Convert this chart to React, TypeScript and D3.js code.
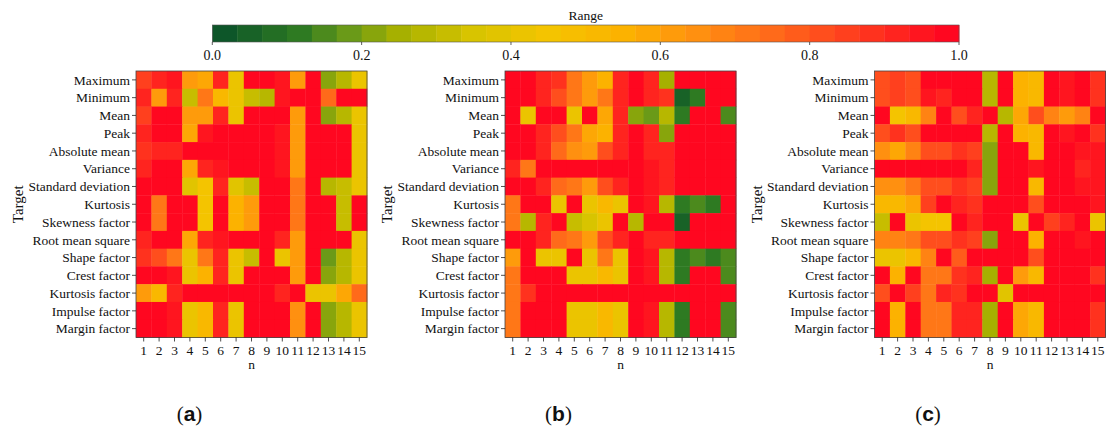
import React from 'react';
import * as d3 from 'd3';

const targets = [
  'Maximum', 'Minimum', 'Mean', 'Peak', 'Absolute mean', 'Variance', 'Standard deviation',
  'Kurtosis', 'Skewness factor', 'Root mean square', 'Shape factor', 'Crest factor',
  'Kurtosis factor', 'Impulse factor', 'Margin factor'
];
const ns = ['1', '2', '3', '4', '5', '6', '7', '8', '9', '10', '11', '12', '13', '14', '15'];
const rangeTicks = [0, 0.2, 0.4, 0.6, 0.8, 1.0];
const panelLabels = ['a', 'b', 'c'];

// rows = targets, cols = n
const valuesA = [
  [0.85, 0.92, 0.95, 0.63, 0.57, 0.93, 0.40, 1.00, 1.00, 0.95, 0.62, 1.00, 0.22, 0.29, 0.43],
  [0.93, 0.63, 0.93, 0.32, 0.73, 0.53, 0.40, 0.30, 0.27, 0.95, 1.00, 1.00, 0.75, 1.00, 1.00],
  [0.85, 0.97, 0.97, 0.63, 0.62, 0.92, 0.40, 1.00, 0.97, 0.97, 0.62, 1.00, 0.22, 0.29, 0.43],
  [0.92, 1.00, 1.00, 0.57, 0.95, 1.00, 1.00, 1.00, 1.00, 0.95, 0.62, 1.00, 1.00, 1.00, 0.43],
  [0.87, 0.90, 0.90, 1.00, 1.00, 1.00, 1.00, 1.00, 0.97, 0.95, 0.62, 1.00, 1.00, 1.00, 0.43],
  [0.92, 1.00, 1.00, 0.57, 0.92, 0.95, 1.00, 1.00, 1.00, 0.95, 0.62, 1.00, 1.00, 1.00, 0.43],
  [1.00, 1.00, 1.00, 0.38, 0.45, 0.93, 0.38, 0.33, 1.00, 1.00, 0.70, 1.00, 0.27, 0.30, 0.43],
  [1.00, 0.73, 1.00, 1.00, 0.45, 0.97, 0.55, 0.63, 1.00, 0.97, 0.72, 1.00, 1.00, 0.30, 1.00],
  [1.00, 0.73, 1.00, 1.00, 0.45, 0.97, 0.55, 0.63, 1.00, 0.97, 0.72, 1.00, 1.00, 0.30, 1.00],
  [0.92, 1.00, 1.00, 0.57, 0.92, 0.95, 1.00, 1.00, 1.00, 0.93, 0.62, 1.00, 1.00, 1.00, 0.43],
  [0.88, 0.80, 0.73, 0.40, 0.72, 0.92, 0.40, 0.30, 1.00, 0.40, 0.62, 1.00, 0.17, 0.28, 0.43],
  [1.00, 1.00, 0.95, 0.40, 0.55, 0.92, 0.40, 1.00, 1.00, 1.00, 0.62, 1.00, 0.22, 0.29, 0.43],
  [0.63, 0.53, 0.92, 1.00, 1.00, 1.00, 1.00, 1.00, 1.00, 0.93, 1.00, 0.40, 0.40, 0.57, 0.75],
  [1.00, 1.00, 0.95, 0.40, 0.50, 0.92, 0.40, 1.00, 1.00, 0.97, 0.65, 1.00, 0.20, 0.29, 0.43],
  [1.00, 1.00, 0.95, 0.40, 0.50, 0.92, 0.40, 1.00, 1.00, 0.97, 0.65, 1.00, 0.20, 0.29, 0.43]
];

const valuesB = [
  [1.00, 1.00, 0.92, 0.88, 0.72, 0.60, 0.56, 0.92, 1.00, 0.93, 0.26, 1.00, 1.00, 1.00, 1.00],
  [1.00, 1.00, 0.93, 0.80, 0.73, 0.60, 0.72, 0.93, 1.00, 0.92, 0.88, 0.05, 0.10, 1.00, 1.00],
  [1.00, 0.43, 1.00, 1.00, 0.42, 1.00, 0.57, 0.93, 0.23, 0.18, 0.27, 0.10, 1.00, 1.00, 0.14],
  [1.00, 1.00, 0.92, 0.82, 0.73, 0.58, 0.55, 0.92, 1.00, 0.92, 0.22, 1.00, 1.00, 1.00, 1.00],
  [1.00, 1.00, 0.90, 0.75, 0.65, 0.60, 0.83, 0.90, 1.00, 0.92, 0.90, 1.00, 1.00, 1.00, 1.00],
  [0.90, 0.72, 1.00, 1.00, 1.00, 1.00, 1.00, 1.00, 1.00, 0.95, 0.93, 1.00, 1.00, 1.00, 1.00],
  [1.00, 1.00, 0.90, 0.75, 0.70, 0.62, 0.83, 0.90, 1.00, 0.95, 0.92, 1.00, 1.00, 1.00, 1.00],
  [0.70, 1.00, 1.00, 0.42, 1.00, 0.42, 0.52, 0.40, 1.00, 0.95, 0.27, 0.10, 0.14, 0.10, 1.00],
  [0.72, 0.27, 0.92, 1.00, 0.33, 0.35, 0.42, 1.00, 0.27, 1.00, 1.00, 0.05, 1.00, 1.00, 1.00],
  [1.00, 1.00, 0.92, 0.75, 0.72, 0.62, 0.83, 0.90, 1.00, 0.93, 0.90, 1.00, 1.00, 1.00, 1.00],
  [0.63, 1.00, 0.42, 0.42, 1.00, 0.42, 0.72, 0.42, 1.00, 0.95, 0.27, 0.10, 0.14, 0.10, 0.15],
  [0.72, 1.00, 1.00, 1.00, 0.42, 0.42, 0.50, 0.42, 1.00, 0.95, 0.27, 0.10, 1.00, 1.00, 0.15],
  [0.72, 0.87, 1.00, 1.00, 1.00, 1.00, 1.00, 1.00, 1.00, 1.00, 1.00, 1.00, 1.00, 1.00, 1.00],
  [0.72, 1.00, 1.00, 1.00, 0.42, 0.42, 0.50, 0.42, 1.00, 0.95, 0.27, 0.10, 1.00, 1.00, 0.15],
  [0.72, 1.00, 1.00, 1.00, 0.42, 0.42, 0.50, 0.42, 1.00, 0.95, 0.27, 0.10, 1.00, 1.00, 0.15]
];

const valuesC = [
  [0.80, 0.85, 0.82, 1.00, 1.00, 1.00, 1.00, 0.27, 1.00, 0.55, 0.53, 1.00, 0.95, 1.00, 0.88],
  [0.80, 0.85, 0.82, 0.95, 0.90, 1.00, 1.00, 0.27, 1.00, 0.55, 0.53, 1.00, 0.95, 1.00, 0.88],
  [1.00, 0.45, 0.50, 0.67, 1.00, 0.80, 0.93, 1.00, 0.27, 0.57, 0.80, 0.67, 0.60, 0.67, 1.00],
  [0.80, 0.88, 0.83, 1.00, 1.00, 1.00, 1.00, 0.27, 1.00, 0.55, 0.53, 1.00, 0.95, 1.00, 0.88],
  [0.65, 0.58, 0.67, 0.80, 0.80, 0.88, 0.85, 0.23, 1.00, 1.00, 0.53, 1.00, 1.00, 0.95, 0.95],
  [1.00, 1.00, 1.00, 1.00, 1.00, 1.00, 0.92, 0.23, 1.00, 1.00, 0.95, 1.00, 1.00, 0.90, 0.95],
  [0.65, 0.65, 0.72, 0.80, 0.80, 0.88, 0.85, 0.23, 1.00, 1.00, 0.53, 1.00, 1.00, 0.95, 0.95],
  [0.52, 0.52, 0.57, 0.85, 1.00, 0.90, 0.88, 1.00, 1.00, 1.00, 0.82, 1.00, 1.00, 1.00, 0.95],
  [0.32, 1.00, 0.42, 0.45, 0.45, 1.00, 0.90, 1.00, 1.00, 0.42, 1.00, 0.85, 0.90, 1.00, 0.43],
  [0.67, 0.67, 0.72, 0.80, 0.80, 0.88, 0.85, 0.23, 1.00, 1.00, 0.55, 1.00, 1.00, 0.95, 1.00],
  [0.42, 0.42, 0.52, 0.67, 1.00, 0.78, 1.00, 1.00, 1.00, 1.00, 0.80, 1.00, 1.00, 1.00, 1.00],
  [1.00, 0.55, 1.00, 0.70, 0.70, 0.88, 0.93, 0.25, 1.00, 0.60, 0.53, 1.00, 1.00, 1.00, 0.88],
  [0.80, 1.00, 0.85, 0.70, 0.93, 0.88, 1.00, 1.00, 0.38, 1.00, 1.00, 1.00, 1.00, 1.00, 1.00],
  [1.00, 0.55, 1.00, 0.70, 0.70, 0.90, 0.93, 0.25, 1.00, 0.58, 0.53, 1.00, 1.00, 1.00, 0.88],
  [1.00, 0.55, 1.00, 0.70, 0.70, 0.90, 0.93, 0.25, 1.00, 0.58, 0.53, 1.00, 1.00, 1.00, 0.88]
];

const panelValues = [valuesA, valuesB, valuesC];

// colour ramp, sampled into 30 steps like the colorbar
const rampStops = [0, 0.117, 0.183, 0.25, 0.35, 0.45, 0.55, 0.65, 0.75, 0.85, 1.0];
const rampColors = ['#07502a', '#2e7a22', '#6a9a18', '#a6b000', '#d8c400', '#f4c400',
  '#fcb200', '#ff9010', '#ff6a1a', '#ff401e', '#ff0020'];
const nBins = 30;

const ramp = d3.scaleLinear<string>().domain(rampStops).range(rampColors).interpolate(d3.interpolateRgb);
const binColor = (i: number) => ramp((i + 0.5) / nBins);
const colorOf = (v: number) => binColor(Math.min(nBins - 1, Math.floor(v * nBins)));

const W = 1108;
const H = 427;
const panelLefts = [136, 505, 874.5];
const panelTop = 71;
const panelW = 231;
const panelH = 266.5;
const fs = 13.5;

// serif text everywhere, set on each element
const T = (fontSize: number) => ({ fontFamily: 'Liberation Serif', fontSize, fill: '#111' });

function Panel({ left, values, label }: { left: number; values: number[][]; label: string }) {
  const x = d3.scaleBand().domain(ns).range([0, panelW]);
  const y = d3.scaleBand().domain(targets).range([0, panelH]);
  return (
    <g transform={`translate(${left},${panelTop})`}>
      {values.map((row, ri) =>
        row.map((v, ci) => (
          <rect key={`${ri}-${ci}`} x={x(ns[ci])} y={y(targets[ri])}
            width={x.bandwidth() + 0.4} height={y.bandwidth() + 0.4} fill={colorOf(v)} />
        ))
      )}
      <rect x={0} y={0} width={panelW} height={panelH} fill="none" stroke="#444" strokeWidth={0.8} />
      {targets.map(t => {
        const cy = (y(t) as number) + y.bandwidth() / 2;
        return (
          <g key={t}>
            <line x1={-4} x2={0} y1={cy} y2={cy} stroke="#222" strokeWidth={0.8} />
            <text x={-6} y={cy} dy="0.35em" textAnchor="end" style={T(fs)}>{t}</text>
          </g>
        );
      })}
      {ns.map(n => {
        const cx = (x(n) as number) + x.bandwidth() / 2;
        return (
          <g key={n}>
            <line x1={cx} x2={cx} y1={panelH} y2={panelH + 4} stroke="#222" strokeWidth={0.8} />
            <text x={cx} y={panelH + 17} textAnchor="middle" style={T(fs)}>{n}</text>
          </g>
        );
      })}
      <text x={panelW / 2} y={panelH + 31} textAnchor="middle" style={T(fs)}>n</text>
      <text transform={`translate(${-113},${panelH / 2}) rotate(-90)`} textAnchor="middle"
        style={T(15)}>Target</text>
      <text x={panelW / 2 - 62} y={panelH + 83} textAnchor="middle" style={T(21)}>
        (<tspan style={{ fontWeight: 'bold', fontFamily: 'Liberation Sans' }}>{label}</tspan>)
      </text>
    </g>
  );
}

export default function App() {
  const cbX = d3.scaleLinear().domain([0, 1]).range([212.3, 959]);
  const cbTop = 25;
  const cbH = 17;
  const bins = d3.range(nBins);
  return (
    <svg width={W} height={H} style={{ position: 'absolute', left: 0, top: 0, background: '#fff' }}>
      <rect width={W} height={H} fill="#fff" />
      <text x={(cbX(0) + cbX(1)) / 2} y={cbTop - 5} textAnchor="middle" style={T(fs)}>Range</text>
      {bins.map(i => (
        <rect key={i} x={cbX(i / nBins)} y={cbTop} width={cbX(1 / nBins) - cbX(0) + 0.4} height={cbH}
          fill={binColor(i)} />
      ))}
      <rect x={cbX(0)} y={cbTop} width={cbX(1) - cbX(0)} height={cbH} fill="none" stroke="#555" strokeWidth={0.6} />
      {rangeTicks.map(t => (
        <g key={t}>
          <line x1={cbX(t)} x2={cbX(t)} y1={cbTop + cbH} y2={cbTop + cbH + 3} stroke="#333" strokeWidth={0.8} />
          <text x={cbX(t)} y={cbTop + cbH + 18} textAnchor="middle" style={T(14)}>{t.toFixed(1)}</text>
        </g>
      ))}
      {panelValues.map((vals, i) => (
        <Panel key={i} left={panelLefts[i]} values={vals} label={panelLabels[i]} />
      ))}
    </svg>
  );
}
